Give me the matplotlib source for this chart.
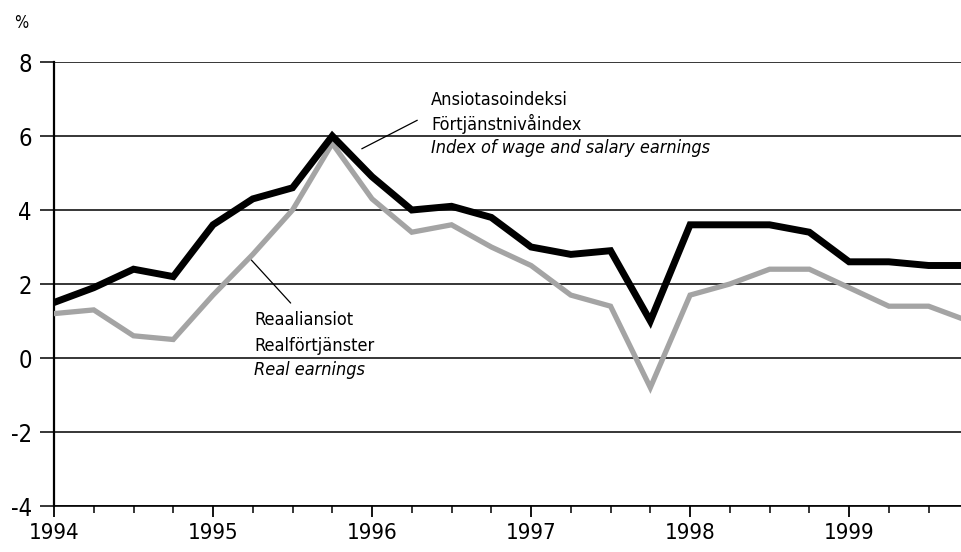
import matplotlib.pyplot as plt
from matplotlib.ticker import MultipleLocator

plt.rcParams['font.family'] = ['DejaVu Sans']
plt.rcParams['font.stretch'] = 'condensed'

# quarterly observations, 1994 Q1 .. 1999 Q4
years = [1994, 1995, 1996, 1997, 1998, 1999]
quarters = [y + q / 4 for y in years for q in range(4)]

wage_index = [1.5, 1.9, 2.4, 2.2, 3.6, 4.3, 4.6, 6.0,
              4.9, 4.0, 4.1, 3.8, 3.0, 2.8, 2.9, 1.0,
              3.6, 3.6, 3.6, 3.4, 2.6, 2.6, 2.5, 2.5]
real_earnings = [1.2, 1.3, 0.6, 0.5, 1.7, 2.8, 4.0, 5.8,
                 4.3, 3.4, 3.6, 3.0, 2.5, 1.7, 1.4, -0.8,
                 1.7, 2.0, 2.4, 2.4, 1.9, 1.4, 1.4, 1.0]
y_ticks = [-4, -2, 0, 2, 4, 6, 8]

fig = plt.figure(figsize=(9.62, 5.52), dpi=100)
ax = fig.add_axes([54 / 962, 1 - 506 / 552, 1 - 54 / 962, (506 - 62) / 552])

ax.set_xlim(1994, 1999.71)
ax.set_ylim(-4, 8)

# horizontal grid
for v in y_ticks:
    ax.axhline(v, color='black', lw=1.1, zorder=1)

ax.plot(quarters, real_earnings, color='#a4a4a4', lw=3.8, solid_joinstyle='miter', zorder=3)
ax.plot(quarters, wage_index, color='black', lw=5, solid_joinstyle='miter', zorder=4)

for s in ['top', 'right']:
    ax.spines[s].set_visible(False)
ax.spines['left'].set_linewidth(1.6)
ax.spines['bottom'].set_linewidth(1.2)

ax.set_yticks(y_ticks)
ax.set_yticklabels([str(v) for v in y_ticks], fontsize=17)
ax.tick_params(axis='y', length=10, width=1.1, pad=6)

ax.set_xticks(years)
ax.set_xticklabels([str(y) for y in years], fontsize=16)
ax.xaxis.set_minor_locator(MultipleLocator(0.25))
ax.tick_params(axis='x', which='major', length=8, width=1.3, pad=4)
ax.tick_params(axis='x', which='minor', length=5, width=1.1)

fig.text(14 / 962, 1 - 23 / 552, '%', fontsize=12, va='center', ha='left')

# labels with leader lines
ax.annotate('', xy=(1995.92, 5.62), xytext=(1996.30, 6.46),
            arrowprops=dict(arrowstyle='-', color='black', lw=0.9))
ax.text(1996.37, 6.97, 'Ansiotasoindeksi', fontsize=13, va='center')
ax.text(1996.37, 6.33, 'Förtjänstnivåindex', fontsize=13, va='center')
ax.text(1996.37, 5.67, 'Index of wage and salary earnings', fontsize=13,
        va='center', style='italic')

ax.annotate('', xy=(1995.23, 2.7), xytext=(1995.50, 1.43),
            arrowprops=dict(arrowstyle='-', color='black', lw=0.9))
ax.text(1995.26, 1.03, 'Reaaliansiot', fontsize=13, va='center')
ax.text(1995.26, 0.32, 'Realförtjänster', fontsize=13, va='center')
ax.text(1995.26, -0.33, 'Real earnings', fontsize=13, va='center', style='italic')

fig.savefig('out.png', dpi=100)
